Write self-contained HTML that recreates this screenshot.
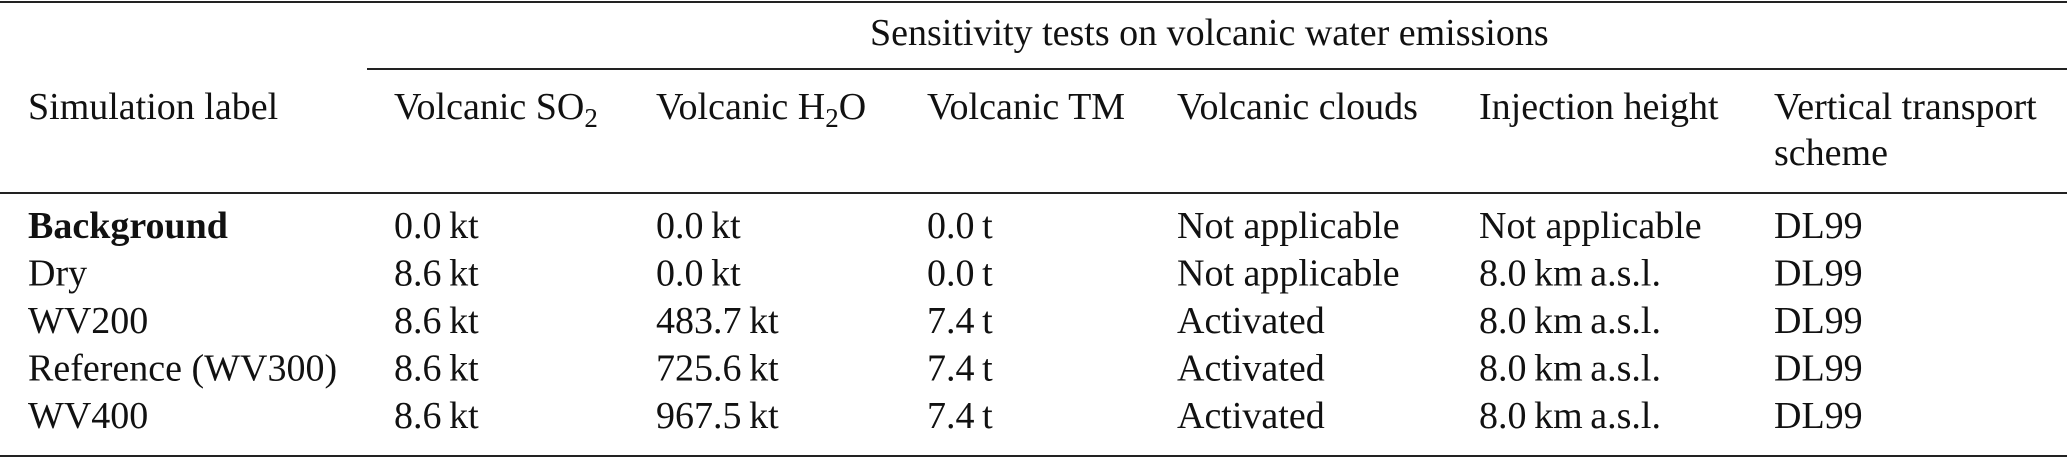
<!DOCTYPE html>
<html><head><meta charset="utf-8"><style>
html,body{margin:0;padding:0;background:#fff;}
svg{display:block;}
text{font-family:"Liberation Serif",serif;font-size:38px;fill:#111;}
.b{font-weight:bold;}
</style></head><body>
<svg width="2067" height="458" viewBox="0 0 2067 458">
<rect x="0" y="1" width="2067" height="2" fill="#222"/>
<rect x="367" y="68" width="1700" height="2" fill="#222"/>
<rect x="0" y="192" width="2067" height="2" fill="#222"/>
<rect x="0" y="455" width="2067" height="2" fill="#222"/>
<text x="870" y="45">Sensitivity tests on volcanic water emissions</text>
<g>
<text x="28" y="119">Simulation label</text>
<text x="394" y="119">Volcanic SO<tspan dy="8" font-size="27">2</tspan></text>
<text x="656" y="119">Volcanic H<tspan dy="8" font-size="27">2</tspan><tspan dy="-8">O</tspan></text>
<text x="927" y="119">Volcanic TM</text>
<text x="1177" y="119">Volcanic clouds</text>
<text x="1479" y="119">Injection height</text>
<text x="1774" y="119">Vertical transport</text>
<text x="1774" y="165">scheme</text>
</g>
<g id="rows"></g>
</svg>
<script>
const labels=["Background","Dry","WV200","Reference (WV300)","WV400"];
const so2=["0.0\u2009kt","8.6\u2009kt","8.6\u2009kt","8.6\u2009kt","8.6\u2009kt"];
const h2o=["0.0\u2009kt","0.0\u2009kt","483.7\u2009kt","725.6\u2009kt","967.5\u2009kt"];
const tm=["0.0\u2009t","0.0\u2009t","7.4\u2009t","7.4\u2009t","7.4\u2009t"];
const clouds=["Not applicable","Not applicable","Activated","Activated","Activated"];
const inj=["Not applicable","8.0\u2009km\u2009a.s.l.","8.0\u2009km\u2009a.s.l.","8.0\u2009km\u2009a.s.l.","8.0\u2009km\u2009a.s.l."];
const scheme=["DL99","DL99","DL99","DL99","DL99"];
const cols=[labels,so2,h2o,tm,clouds,inj,scheme];
const colX=[28,394,656,927,1177,1479,1774];
const colNames=["label","so2","h2o","tm","clouds","injection","scheme"];
const g=document.getElementById('rows');
const NS="http://www.w3.org/2000/svg";
for(let r=0;r<labels.length;r++){
  const y=238+r*47.5;
  for(let c=0;c<cols.length;c++){
    const t=document.createElementNS(NS,'text');
    t.setAttribute('x',colX[c]);
    t.setAttribute('y',y);
    if(r===0&&c===0)t.setAttribute('class','b');
    
    
    t.textContent=cols[c][r];
    g.appendChild(t);
  }
}
</script>
</body></html>
